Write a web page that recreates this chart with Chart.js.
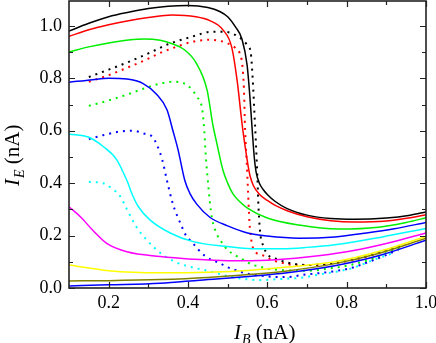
<!DOCTYPE html>
<html>
<head>
<meta charset="utf-8">
<script src="https://cdn.jsdelivr.net/npm/chart.js@4.4.0/dist/chart.umd.min.js"></script>
<style>
  html, body { margin: 0; padding: 0; background: #fff; }
</style>
</head>
<body>
<canvas id="myChart" width="436" height="343"></canvas>
<script>
// ticks
const xTicks = [0.2, 0.4, 0.6, 0.8, 1.0];
const xMinorTicks = [0.3, 0.5, 0.7, 0.9];
const yTicks = [0.0, 0.2, 0.4, 0.6, 0.8, 1.0];
const yMinorTicks = [0.1, 0.3, 0.5, 0.7, 0.9];

// solid curves [I_B, I_E]
const blackSolid = [[0.1,0.98],[0.15,1.01],[0.2,1.035],[0.25,1.052],[0.3,1.066],[0.35,1.075],[0.4,1.078],[0.45,1.07],[0.48,1.055],[0.5,1.035],[0.52,0.995],[0.536,0.95],[0.549,0.85],[0.556,0.73],[0.562,0.6],[0.567,0.5],[0.572,0.44],[0.58,0.4],[0.59,0.375],[0.6,0.357],[0.62,0.33],[0.65,0.303],[0.7,0.278],[0.76,0.265],[0.82,0.262],[0.9,0.267],[0.96,0.278],[1.0,0.29]];
const redSolid = [[0.1,0.96],[0.15,0.985],[0.2,1.004],[0.25,1.02],[0.3,1.032],[0.36,1.042],[0.42,1.035],[0.455,1.02],[0.488,0.985],[0.51,0.92],[0.524,0.79],[0.536,0.63],[0.544,0.54],[0.55,0.48],[0.556,0.43],[0.565,0.39],[0.58,0.358],[0.6,0.334],[0.62,0.315],[0.65,0.295],[0.7,0.272],[0.76,0.257],[0.82,0.252],[0.9,0.256],[0.96,0.268],[1.0,0.28]];
const greenSolid = [[0.1,0.90],[0.15,0.92],[0.2,0.935],[0.25,0.946],[0.29,0.95],[0.33,0.945],[0.36,0.932],[0.39,0.91],[0.42,0.86],[0.448,0.756],[0.463,0.62],[0.473,0.55],[0.488,0.45],[0.5,0.4],[0.513,0.36],[0.53,0.33],[0.55,0.305],[0.6,0.267],[0.68,0.24],[0.78,0.225],[0.88,0.232],[0.95,0.25],[1.0,0.268]];
const blueSolid = [[0.1,0.785],[0.16,0.795],[0.2,0.80],[0.246,0.797],[0.287,0.78],[0.32,0.74],[0.347,0.68],[0.362,0.60],[0.375,0.527],[0.392,0.41],[0.405,0.36],[0.422,0.32],[0.455,0.27],[0.5,0.237],[0.55,0.21],[0.6,0.198],[0.68,0.19],[0.77,0.195],[0.85,0.21],[0.92,0.226],[1.0,0.25]];
const cyanSolid = [[0.1,0.588],[0.15,0.575],[0.186,0.54],[0.22,0.49],[0.246,0.41],[0.26,0.355],[0.275,0.31],[0.304,0.26],[0.355,0.21],[0.413,0.177],[0.5,0.158],[0.56,0.15],[0.64,0.15],[0.7,0.155],[0.77,0.165],[0.89,0.195],[1.0,0.227]];
const magentaSolid = [[0.1,0.31],[0.13,0.27],[0.16,0.22],[0.195,0.17],[0.246,0.138],[0.33,0.12],[0.41,0.11],[0.5,0.104],[0.6,0.106],[0.7,0.118],[0.8,0.138],[0.9,0.17],[1.0,0.21]];
const yellowSolid = [[0.1,0.088],[0.2,0.066],[0.33,0.058],[0.45,0.06],[0.56,0.068],[0.65,0.08],[0.77,0.10],[0.89,0.143],[1.0,0.197]];
const oliveSolid = [[0.1,0.027],[0.2,0.028],[0.33,0.032],[0.45,0.04],[0.56,0.052],[0.65,0.065],[0.77,0.093],[0.88,0.132],[1.0,0.19]];
const bottomBlueSolid = [[0.1,0.008],[0.2,0.012],[0.33,0.018],[0.43,0.03],[0.56,0.045],[0.65,0.058],[0.77,0.085],[0.88,0.123],[1.0,0.182]];

// dotted curves
const blackDotted = [[0.15,0.805],[0.2,0.833],[0.246,0.86],[0.3,0.895],[0.35,0.93],[0.413,0.96],[0.455,0.977],[0.49,0.978],[0.513,0.97],[0.535,0.95],[0.548,0.93],[0.558,0.9],[0.563,0.8],[0.567,0.68],[0.571,0.56],[0.575,0.42],[0.578,0.3],[0.582,0.21],[0.59,0.16],[0.602,0.126],[0.624,0.11],[0.657,0.095],[0.7,0.088],[0.75,0.092],[0.81,0.107],[0.87,0.13],[0.91,0.15],[0.947,0.168]];
const redDotted = [[0.15,0.787],[0.2,0.812],[0.246,0.84],[0.3,0.875],[0.33,0.897],[0.38,0.925],[0.413,0.94],[0.455,0.947],[0.476,0.944],[0.498,0.935],[0.52,0.915],[0.53,0.897],[0.537,0.85],[0.541,0.76],[0.544,0.6],[0.548,0.48],[0.551,0.38],[0.555,0.25],[0.558,0.2],[0.565,0.148],[0.59,0.124],[0.61,0.108],[0.64,0.095],[0.67,0.088],[0.72,0.088],[0.77,0.095],[0.81,0.105],[0.87,0.128],[0.91,0.148],[0.945,0.165]];
const greenDotted = [[0.15,0.695],[0.203,0.717],[0.25,0.74],[0.287,0.76],[0.33,0.78],[0.362,0.787],[0.397,0.775],[0.422,0.73],[0.436,0.68],[0.441,0.6],[0.445,0.5],[0.45,0.41],[0.455,0.33],[0.46,0.27],[0.473,0.205],[0.486,0.172],[0.5,0.145],[0.518,0.126],[0.54,0.107],[0.56,0.09],[0.58,0.082],[0.6,0.074],[0.64,0.068],[0.7,0.066],[0.76,0.075],[0.81,0.088],[0.87,0.115],[0.917,0.145],[0.945,0.16]];
const blueDotted = [[0.15,0.568],[0.186,0.583],[0.224,0.596],[0.262,0.60],[0.287,0.59],[0.31,0.577],[0.322,0.545],[0.335,0.49],[0.347,0.41],[0.362,0.32],[0.38,0.25],[0.395,0.2],[0.41,0.175],[0.425,0.148],[0.443,0.122],[0.46,0.107],[0.48,0.095],[0.498,0.08],[0.513,0.072],[0.54,0.058],[0.565,0.05],[0.59,0.046],[0.62,0.042],[0.65,0.042],[0.69,0.05],[0.76,0.062],[0.81,0.076],[0.87,0.108],[0.93,0.145]];
const cyanDotted = [[0.15,0.405],[0.186,0.40],[0.208,0.38],[0.229,0.35],[0.246,0.30],[0.27,0.233],[0.296,0.183],[0.33,0.134],[0.372,0.097],[0.413,0.078],[0.448,0.066],[0.473,0.056],[0.498,0.046],[0.523,0.038],[0.55,0.033],[0.58,0.03],[0.61,0.032],[0.64,0.035],[0.69,0.04],[0.725,0.05],[0.81,0.074],[0.876,0.112],[0.92,0.135]];

Chart.defaults.font.family = '"Liberation Serif", "Times New Roman", serif';

function line(pairs, color, dotted) {
  return {
    data: pairs.map(p => ({ x: p[0], y: p[1] })),
    borderColor: color,
    borderWidth: dotted ? 2 : 1.5,
    borderDash: dotted ? [2, 5] : [],
    pointRadius: 0,
    cubicInterpolationMode: 'monotone',
    fill: false
  };
}

// frame, inward ticks on all four sides, axis titles with subscripts
const frameTicks = {
  id: 'frameTicks',
  afterDraw(c) {
    const ctx = c.ctx, a = c.chartArea, xs = c.scales.x, ys = c.scales.y;
    ctx.save();
    ctx.strokeStyle = '#222';
    ctx.lineWidth = 1.2;
    ctx.beginPath();
    const xt = (v, len) => {
      const p = Math.round(xs.getPixelForValue(v)) + 0.5;
      ctx.moveTo(p, a.bottom); ctx.lineTo(p, a.bottom - len);
      ctx.moveTo(p, a.top); ctx.lineTo(p, a.top + len);
    };
    const yt = (v, len) => {
      const p = Math.round(ys.getPixelForValue(v)) + 0.5;
      ctx.moveTo(a.left, p); ctx.lineTo(a.left + len, p);
      ctx.moveTo(a.right, p); ctx.lineTo(a.right - len, p);
    };
    xTicks.forEach(v => xt(v, 6));
    xMinorTicks.forEach(v => xt(v, 4));
    yTicks.forEach(v => yt(v, 6));
    yMinorTicks.forEach(v => yt(v, 4));
    ctx.stroke();
    ctx.lineWidth = 1.6;
    ctx.strokeRect(a.left, a.top, a.right - a.left, a.bottom - a.top);

    ctx.fillStyle = '#000';
    ctx.textBaseline = 'alphabetic';
    const title = (sub) => {
      ctx.font = 'italic 21px "Liberation Serif"';
      ctx.fillText('I', 0, 0);
      let w = ctx.measureText('I').width;
      ctx.font = 'italic 14px "Liberation Serif"';
      ctx.fillText(sub, w + 1, 5);
      w += ctx.measureText(sub).width + 1;
      ctx.font = '21px "Liberation Serif"';
      ctx.fillText(' (nA)', w, 0);
    };
    ctx.save();
    ctx.translate(234, 339);
    title('B');
    ctx.restore();
    ctx.save();
    ctx.translate(19, 186);
    ctx.rotate(-Math.PI / 2);
    title('E');
    ctx.restore();
    ctx.restore();
  }
};

const tickFont = { family: '"Liberation Serif", "Times New Roman", serif', size: 18 };

new Chart(document.getElementById('myChart'), {
  type: 'line',
  data: {
    datasets: [
      line(blackSolid, '#000000', false),
      line(redSolid, '#ff0000', false),
      line(greenSolid, '#00ee00', false),
      line(blueSolid, '#0000ff', false),
      line(cyanSolid, '#00ffff', false),
      line(magentaSolid, '#ff00ff', false),
      line(yellowSolid, '#ffff00', false),
      line(oliveSolid, '#808000', false),
      line(bottomBlueSolid, '#0000ff', false),
      line(blackDotted, '#000000', true),
      line(redDotted, '#ff0000', true),
      line(greenDotted, '#00ee00', true),
      line(blueDotted, '#0000ff', true),
      line(cyanDotted, '#00ffff', true)
    ]
  },
  options: {
    responsive: false,
    animation: false,
    layout: { padding: { top: 1, right: 10, left: 0, bottom: 0 } },
    plugins: { legend: { display: false }, tooltip: { enabled: false } },
    scales: {
      x: {
        type: 'linear',
        min: 0.1,
        max: 1.0,
        grid: { display: false, drawTicks: false },
        border: { display: false },
        ticks: { font: tickFont, color: '#000', padding: 4, maxRotation: 0,
                  callback: v => v.toFixed(1) },
        afterBuildTicks: s => { s.ticks = xTicks.map(v => ({ value: v })); },
        afterFit: s => { s.height = 55; s.paddingLeft = 0; s.paddingRight = 0; }
      },
      y: {
        type: 'linear',
        min: 0,
        max: 1.095,
        grid: { display: false, drawTicks: false },
        border: { display: false },
        ticks: { font: tickFont, color: '#000', padding: 7,
                  callback: v => v.toFixed(1) },
        afterBuildTicks: s => { s.ticks = yTicks.map(v => ({ value: v })); },
        afterFit: s => { s.width = 69; s.paddingTop = 0; s.paddingBottom = 0; }
      }
    }
  },
  plugins: [frameTicks]
});
</script>
</body>
</html>
